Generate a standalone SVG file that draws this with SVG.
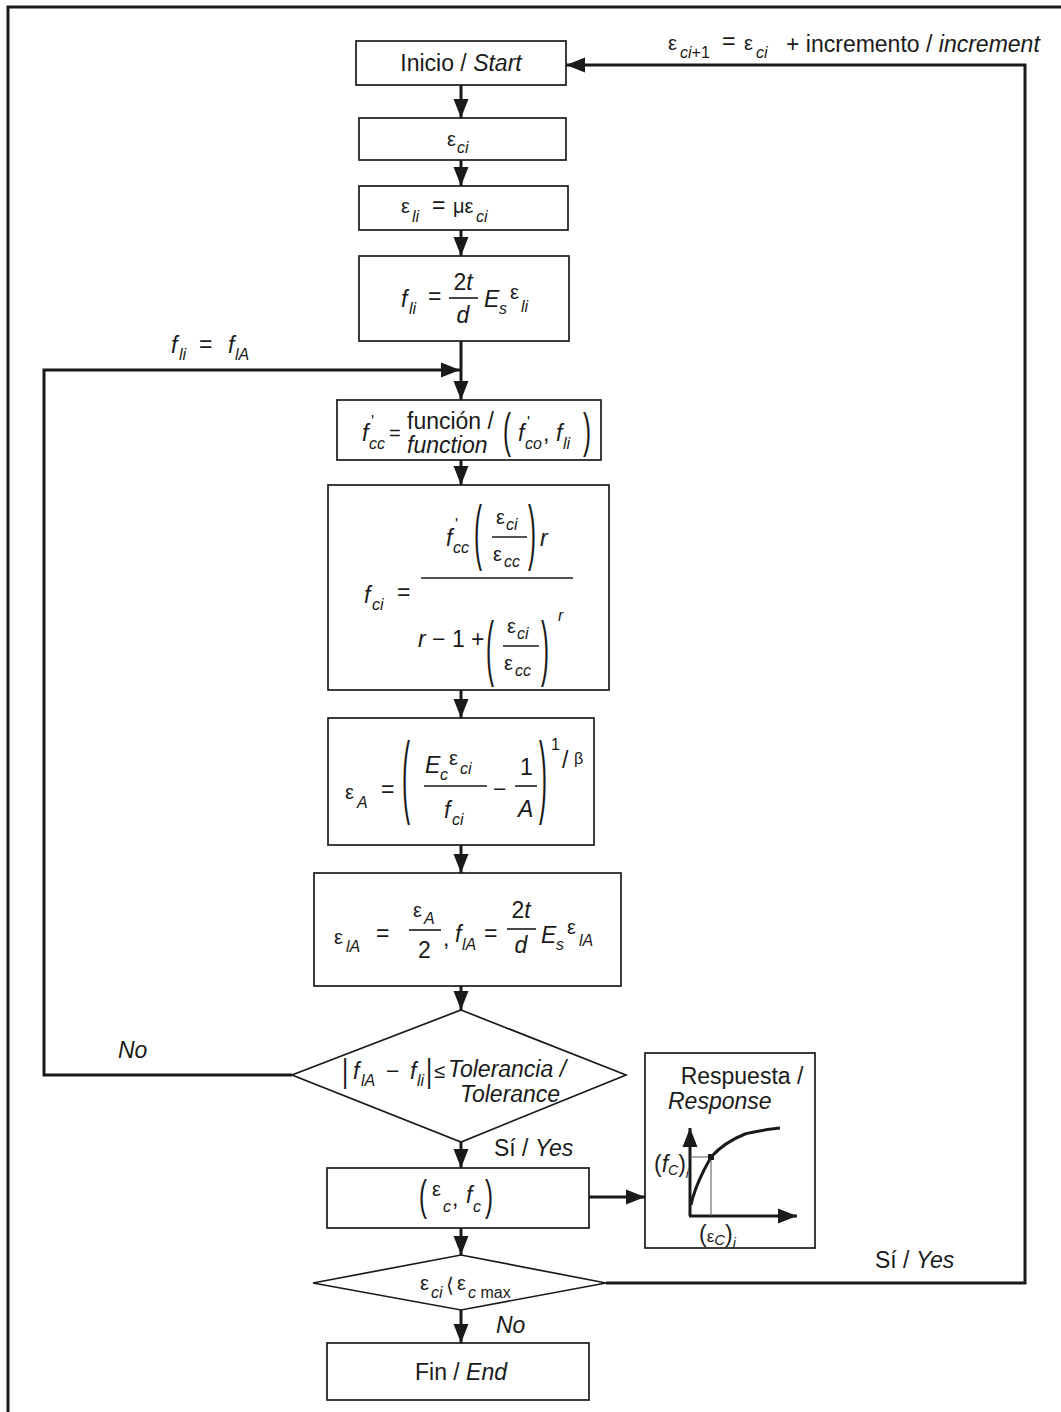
<svg xmlns="http://www.w3.org/2000/svg" width="1061" height="1412" viewBox="0 0 1061 1412">
<style>
text{font-family:"Liberation Sans",Arial,Helvetica,sans-serif;fill:#1a1a1a;font-size:23px}
.i{font-style:italic}
.s{font-size:16px}
.g{font-size:20px}
.p{font-size:24px}
.box{fill:#fff;stroke:#1a1a1a;stroke-width:1.7}
.conn{fill:none;stroke:#1a1a1a;stroke-width:3}
.bar{stroke:#1a1a1a;stroke-width:1.6}
.thin{fill:none;stroke:#555;stroke-width:1}
</style>
<defs>
<marker id="ah" markerUnits="userSpaceOnUse" markerWidth="19" markerHeight="16" refX="19" refY="8" orient="auto" viewBox="0 0 19 16"><path d="M0,0.5 L19,8 L0,15.5 z" fill="#1a1a1a"/></marker>
</defs>
<rect x="0" y="0" width="1061" height="1412" fill="#fff"/>
<rect x="8" y="7" width="1090" height="1440" fill="none" stroke="#1a1a1a" stroke-width="3"/>

<g id="connectors">
<path class="conn" d="M461,85 V118" marker-end="url(#ah)"/>
<path class="conn" d="M461,160 V186" marker-end="url(#ah)"/>
<path class="conn" d="M461,230 V256" marker-end="url(#ah)"/>
<path class="conn" d="M461,341 V400" marker-end="url(#ah)"/>
<path class="conn" d="M292,1075 H44 V370 H460" marker-end="url(#ah)"/>
<path class="conn" d="M461,460 V485" marker-end="url(#ah)"/>
<path class="conn" d="M461,690 V718" marker-end="url(#ah)"/>
<path class="conn" d="M461,845 V873" marker-end="url(#ah)"/>
<path class="conn" d="M461,986 V1010" marker-end="url(#ah)"/>
<path class="conn" d="M461,1142 V1168" marker-end="url(#ah)"/>
<path class="conn" d="M589,1197 H645" marker-end="url(#ah)"/>
<path class="conn" d="M461,1228 V1255" marker-end="url(#ah)"/>
<path class="conn" d="M461,1310 V1343" marker-end="url(#ah)"/>
<path class="conn" d="M606,1283 H1025 V65 H566" marker-end="url(#ah)"/>
</g>

<g id="n-start">
<rect class="box" x="356" y="41" width="210" height="44"/>
<text x="461" y="71" text-anchor="middle">Inicio / <tspan class="i">Start</tspan></text>
</g>

<g id="n-epsci">
<rect class="box" x="359" y="118" width="207" height="42"/>
<text class="g" x="447" y="146">ε</text><text class="s i" x="457" y="153">ci</text>
</g>

<g id="n-epsli">
<rect class="box" x="359" y="186" width="209" height="44"/>
<text class="g" x="401" y="213">ε</text><text class="s i" x="412" y="222">li</text>
<text x="432" y="213">=</text>
<text class="g" x="453" y="213">με</text><text class="s i" x="476" y="222">ci</text>
</g>

<g id="n-fli">
<rect class="box" x="359" y="256" width="210" height="85"/>
<text class="i" x="401" y="307">f</text><text class="s i" x="409" y="314">li</text>
<text x="428" y="304">=</text>
<text class="i" x="463" y="290" text-anchor="middle"><tspan font-style="normal">2</tspan>t</text>
<line class="bar" x1="449" y1="298" x2="478" y2="298"/>
<text class="i" x="463" y="323" text-anchor="middle">d</text>
<text class="i" x="484" y="307">E</text><text class="s i" x="499" y="314">s</text>
<text class="g" x="510" y="299">ε</text><text class="s i" x="521" y="312">li</text>
</g>

<g id="n-fcc">
<rect class="box" x="337" y="400" width="264" height="60"/>
<text class="i" x="362" y="441">f</text><text class="s" x="371" y="427">'</text><text class="s i" x="369" y="449">cc</text>
<text class="g" x="389" y="440">=</text>
<text x="407" y="429">función /</text>
<text class="i" x="407" y="453">function</text>
<text class="p" transform="translate(503,447) scale(1,2.0)">(</text>
<text class="i" x="518" y="441">f</text><text class="s" x="527" y="428">'</text><text class="s i" x="525" y="449">co</text>
<text x="543" y="441">,</text>
<text class="i" x="556" y="441">f</text><text class="s i" x="563" y="449">li</text>
<text class="p" transform="translate(583,447) scale(1,2.0)">)</text>
</g>

<g id="n-fci">
<rect class="box" x="328" y="485" width="281" height="205"/>
<text class="i" x="364" y="603">f</text><text class="s i" x="372" y="610">ci</text>
<text x="397" y="600">=</text>
<line class="bar" x1="421" y1="578" x2="573" y2="578"/>
<text class="i" x="446" y="546">f</text><text class="s" x="455" y="530">'</text><text class="s i" x="453" y="553">cc</text>
<text class="p" transform="translate(474,556) scale(1,3.0)">(</text>
<text class="g" x="496" y="524">ε</text><text class="s i" x="506" y="530">ci</text>
<line class="bar" x1="492" y1="537" x2="527" y2="537"/>
<text class="g" x="493" y="561">ε</text><text class="s i" x="504" y="567">cc</text>
<text class="p" transform="translate(528,556) scale(1,3.0)">)</text>
<text class="i" x="540" y="546">r</text>
<text x="418" y="647"><tspan class="i">r</tspan> − 1 +</text>
<text class="p" transform="translate(486,672) scale(1,3.0)">(</text>
<text class="g" x="507" y="633">ε</text><text class="s i" x="517" y="639">ci</text>
<line class="bar" x1="503" y1="646" x2="539" y2="646"/>
<text class="g" x="504" y="670">ε</text><text class="s i" x="515" y="676">cc</text>
<text class="p" transform="translate(541,672) scale(1,3.0)">)</text>
<text class="s i" x="558" y="621">r</text>
</g>

<g id="n-epsA">
<rect class="box" x="328" y="718" width="266" height="127"/>
<text class="g" x="345" y="799">ε</text><text class="s i" x="357" y="808">A</text>
<text x="381" y="797">=</text>
<text class="p" transform="translate(402,806) scale(1,3.8)">(</text>
<text class="i" x="425" y="773">E</text><text class="s i" x="440" y="780">c</text>
<text class="g" x="449" y="765">ε</text><text class="s i" x="460" y="774">ci</text>
<line class="bar" x1="424" y1="786" x2="487" y2="786"/>
<text class="i" x="444" y="818">f</text><text class="s i" x="452" y="825">ci</text>
<text x="493" y="797">−</text>
<text x="520" y="775">1</text>
<line class="bar" x1="515" y1="786" x2="537" y2="786"/>
<text class="i" x="518" y="817">A</text>
<text class="p" transform="translate(539,806) scale(1,3.8)">)</text>
<text class="s" x="551" y="750">1</text>
<text x="562" y="768" font-size="24">/</text>
<text class="s" x="574" y="764">β</text>
</g>

<g id="n-epslA">
<rect class="box" x="314" y="873" width="307" height="113"/>
<text class="g" x="334" y="944">ε</text><text class="s i" x="346" y="952">lA</text>
<text x="376" y="941">=</text>
<text class="g" x="413" y="917">ε</text><text class="s i" x="424" y="924">A</text>
<line class="bar" x1="409" y1="930" x2="441" y2="930"/>
<text x="418" y="958">2</text>
<text x="443" y="946">,</text>
<text class="i" x="455" y="942">f</text><text class="s i" x="462" y="950">lA</text>
<text x="484" y="941">=</text>
<text class="i" x="521" y="918" text-anchor="middle"><tspan font-style="normal">2</tspan>t</text>
<line class="bar" x1="507" y1="929" x2="536" y2="929"/>
<text class="i" x="521" y="953" text-anchor="middle">d</text>
<text class="i" x="541" y="943">E</text><text class="s i" x="556" y="950">s</text>
<text class="g" x="567" y="934">ε</text><text class="s i" x="579" y="946">lA</text>
</g>

<g id="d-tol">
<polygon class="box" points="461,1010 626,1075 461,1142 292,1075"/>
<text class="p" transform="translate(342,1082) scale(1,1.35)">|</text>
<text class="i" x="353" y="1079">f</text><text class="s i" x="361" y="1086">lA</text>
<text x="386" y="1079">−</text>
<text class="i" x="410" y="1079">f</text><text class="s i" x="417" y="1086">li</text>
<text class="p" transform="translate(426,1082) scale(1,1.35)">|</text>
<text class="g" x="434" y="1078">≤</text>
<text class="i" x="448" y="1077">Tolerancia /</text>
<text class="i" x="460" y="1102">Tolerance</text>
</g>

<g id="n-result">
<rect class="box" x="327" y="1168" width="262" height="60"/>
<text class="p" transform="translate(419,1210) scale(1,1.8)">(</text>
<text class="g" x="432" y="1196">ε</text><text class="s i" x="443" y="1212">c</text>
<text x="452" y="1206">,</text>
<text class="i" x="466" y="1203">f</text><text class="s i" x="473" y="1212">c</text>
<text class="p" transform="translate(485,1210) scale(1,1.8)">)</text>
</g>

<g id="n-response">
<rect class="box" x="645" y="1053" width="170" height="195"/>
<text x="742" y="1084" text-anchor="middle" font-size="22">Respuesta /</text>
<text class="i" x="668" y="1109" font-size="22">Response</text>
<path class="conn" d="M690,1216 V1128" marker-end="url(#ah)"/>
<path class="conn" d="M689,1216 H797" marker-end="url(#ah)"/>
<path d="M691,1205 C694,1190 700,1178 704,1170 L711,1157 C720,1147 730,1140 745,1134 C755,1131 765,1130 780,1128" fill="none" stroke="#1a1a1a" stroke-width="3"/>
<path class="thin" d="M690,1157 H711 M711,1157 V1216"/>
<rect x="708" y="1154" width="6" height="6" fill="#1a1a1a"/>
<text x="654" y="1172" font-size="20">(<tspan class="i">f</tspan><tspan class="i" font-size="14" dy="3">C</tspan><tspan dy="-3">)</tspan><tspan class="i" font-size="13" dy="6">i</tspan></text>
<text x="699" y="1242" font-size="20">(<tspan font-size="17">ε</tspan><tspan class="i" font-size="15" dy="3">C</tspan><tspan dy="-3">)</tspan><tspan class="i" font-size="14" dy="6">i</tspan></text>
</g>

<g id="d-max">
<polygon class="box" points="461,1255 606,1283 461,1310 313,1283"/>
<text class="g" x="420" y="1290">ε</text><text class="s i" x="431" y="1298">ci</text>
<text class="g" x="446" y="1292">⟨</text>
<text class="g" x="457" y="1290">ε</text><text class="s" x="468" y="1298"><tspan class="i">c</tspan> max</text>
</g>

<g id="n-end">
<rect class="box" x="327" y="1343" width="262" height="57"/>
<text x="461" y="1380" text-anchor="middle">Fin / <tspan class="i">End</tspan></text>
</g>

<g id="labels">
<text class="g" x="668" y="50">ε</text><text class="s" x="680" y="58"><tspan class="i">ci</tspan>+1</text>
<text x="722" y="49">=</text>
<text class="g" x="744" y="50">ε</text><text class="s i" x="756" y="58">ci</text>
<text x="786" y="52">+ incremento / <tspan class="i">increment</tspan></text>
<text class="i" x="171" y="353">f</text><text class="s i" x="179" y="360">li</text>
<text x="199" y="352">=</text>
<text class="i" x="228" y="353">f</text><text class="s i" x="235" y="360">lA</text>
<text class="i" x="118" y="1058">No</text>
<text x="494" y="1156">Sí / <tspan class="i">Yes</tspan></text>
<text class="i" x="496" y="1333">No</text>
<text x="875" y="1268">Sí / <tspan class="i">Yes</tspan></text>
</g>
</svg>
